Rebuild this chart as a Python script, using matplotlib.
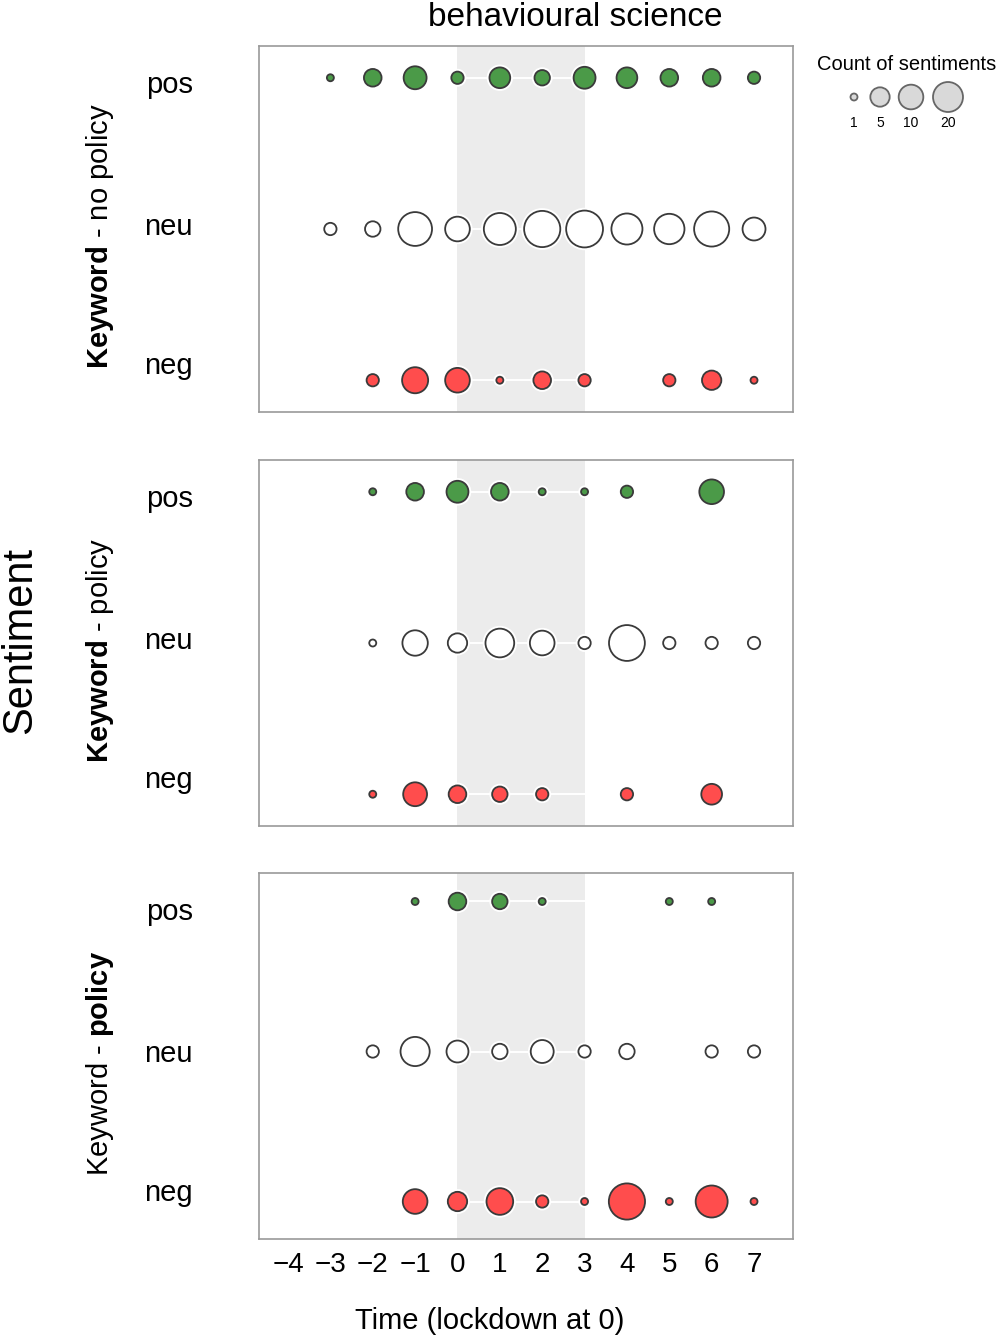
import numpy as np
import matplotlib
matplotlib.use("Agg")
import matplotlib.pyplot as plt

plt.rcParams['font.family'] = ['Liberation Sans', 'DejaVu Sans']
plt.rcParams['mathtext.fontset'] = 'custom'
plt.rcParams['mathtext.rm'] = 'Liberation Sans'
plt.rcParams['mathtext.bf'] = 'Liberation Sans:bold'

# ---- data (counts of sentiments per week) ----
weeks = [-3, -2, -1, 0, 1, 2, 3, 4, 5, 6, 7]
sentiments = ['neg', 'neu', 'pos']

# panel 1: Keyword - no policy  (None = no point)
p1_pos = [1, 4, 8, 2, 6, 3, 7, 6, 4, 4, 2]
p1_neu = [2, 3, 33, 10, 26, 45, 49, 23, 21, 39, 8]
p1_neg = [None, 2, 12, 10, 1, 4, 2, None, 2, 5, 1]

# panel 2: Keyword - policy
p2_pos = [None, 1, 4, 7, 4, 1, 1, 2, None, 10, None]
p2_neu = [None, 1, 11, 5, 17, 10, 2, 43, 2, 2, 2]
p2_neg = [None, 1, 9, 4, 3, 2, None, 2, None, 6, None]

# panel 3: Keyword - policy (policy content)
p3_pos = [None, None, 1, 4, 3, 1, None, None, 1, 1, None]
p3_neu = [None, 2, 18, 7, 3, 8, 2, 3, None, 2, 2]
p3_neg = [None, None, 10, 5, 13, 2, 1, 45, 1, 26, 1]

panels = [
    (r'$\bf{Keyword}$ - no policy', {'pos': p1_pos, 'neu': p1_neu, 'neg': p1_neg}),
    (r'$\bf{Keyword}$ - policy', {'pos': p2_pos, 'neu': p2_neu, 'neg': p2_neg}),
    (r'Keyword - $\bf{policy}$', {'pos': p3_pos, 'neu': p3_neu, 'neg': p3_neg}),
]

xticks = list(range(-4, 8))
legend_counts = [1, 5, 10, 20]

fill = {'pos': '#4b9a48', 'neu': 'white', 'neg': '#ff4d4d'}
edge = '#3a3a3a'

W, H = 1002, 1339


def size_of(count):
    # marker diameter in px grows with log(count), converted to points^2
    d = 7 + 7.67 * np.log(np.asarray(count, dtype=float))
    return (d * 72 / 100) ** 2


def px_axes(fig, left, top, width, height):
    return fig.add_axes([left / W, 1 - (top + height) / H, width / W, height / H])


fig = plt.figure(figsize=(W / 100, H / 100), dpi=100)

# row labels are placed relative to the panel box (baselines, axes fraction)
label_y = {'neg': 0.103, 'neu': 0.484, 'pos': 0.872}

tops = [46, 460, 873]
ylims = [(0.79, 3.21), (0.79, 3.21), (0.75, 3.19)]
for i, (label, data) in enumerate(panels):
    ax = px_axes(fig, 259, tops[i], 534, 366)
    ax.set_xlim(-4.685, 7.92)
    ax.set_ylim(*ylims[i])
    ax.axvspan(0, 3, color='#ececec', lw=0, zorder=0)
    for y in [1, 2, 3]:
        ax.axhline(y, color='white', lw=1.4, zorder=1)
    for j, s in enumerate(sentiments):
        vals = data[s]
        xs = [w for w, v in zip(weeks, vals) if v is not None]
        cs = [v for v in vals if v is not None]
        ys = [j + 1] * len(xs)
        ax.scatter(xs, ys, s=size_of(cs), facecolor='white', edgecolor='white',
                   linewidth=4, zorder=2)
        ax.scatter(xs, ys, s=size_of(cs), facecolor=fill[s], edgecolor=edge,
                   linewidth=1.3, zorder=3)
        ax.text(-0.1236, label_y[s], s, transform=ax.transAxes,
                ha='right', va='baseline', fontsize=21)
    ax.set_yticks([])
    if i == 2:
        ax.set_xticks(xticks)
        ax.set_xticklabels([str(t).replace('-', '\u2212') for t in xticks])
        ax.tick_params(axis='x', length=0, labelsize=20, pad=9)
    else:
        ax.set_xticks([])
    for sp in ax.spines.values():
        sp.set_color('#9a9a9a')
        sp.set_linewidth(1.2)
    fig.text(100 / W, 1 - (tops[i] + 190) / H, label, rotation=90,
             ha='center', va='center', fontsize=21)

fig.text(575 / W, 1 - 18 / H, 'behavioural science', ha='center', va='center',
         fontsize=24)
fig.text(490 / W, 1 - 1321 / H, 'Time (lockdown at 0)', ha='center',
         va='center', fontsize=21)
fig.text(20 / W, 1 - 640 / H, 'Sentiment', rotation=90, ha='center',
         va='center', fontsize=30)

# ---- size legend ----
fig.text(907 / W, 1 - 65 / H, 'Count of sentiments', ha='center',
         va='center', fontsize=14.5)
lax = px_axes(fig, 830, 78, 150, 60)
lax.set_xlim(830, 980)
lax.set_ylim(60, 0)
lax.axis('off')
leg_x = [854, 880, 911, 948]
lax.scatter(leg_x, [19] * 4, s=size_of(legend_counts), facecolor='#d9d9d9',
            edgecolor='#666666', linewidth=1.3, clip_on=False)
for x, c in zip(leg_x, legend_counts):
    lax.text(x, 45, str(c), ha='center', va='center', fontsize=10)

fig.savefig('out.png', dpi=100)
